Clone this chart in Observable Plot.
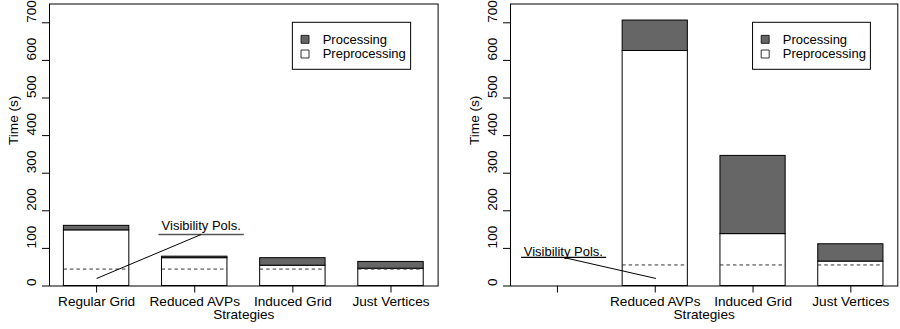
<!DOCTYPE html>
<html><head><meta charset="utf-8">
<script src="https://cdn.jsdelivr.net/npm/d3@7"></script>
<script src="https://cdn.jsdelivr.net/npm/@observablehq/plot@0.6"></script>
<style>
body{margin:0;background:#fff}
#wrap{display:flex;width:900px;height:329px;overflow:hidden}
</style>
</head><body><div id="wrap"></div>
<script>
// ---- data ----
const leftCategories = ["Regular Grid", "Reduced AVPs", "Induced Grid", "Just Vertices"];
const leftPreprocessing = [148, 74, 54, 46];
const leftTotal = [160, 78, 74, 64];
const leftVisibility = [45, 45, 45, 45];

const rightCategories = ["", "Reduced AVPs", "Induced Grid", "Just Vertices"];
const rightPreprocessing = [null, 625, 138, 65];
const rightTotal = [null, 706, 346, 111];
const rightVisibility = [null, 56, 56, 56];

const yTicks = [0, 100, 200, 300, 400, 500, 600, 700];
const legendLabels = ["Processing", "Preprocessing"];
const legendFills = ["#666666", "#ffffff"];
const annotationText = "Visibility Pols.";

// annotation anchors (data coordinates) per panel
const leftAnnotation = {tx: 1.066, ty: 159, ux1: 0.635, ux2: 1.505, uy: 137, px: 0, py: 20, ucolor: "#555"};
const rightAnnotation = {tx: 0.06, ty: 92, ux1: -0.367, ux2: 0.503, uy: 76, px: 1.007, py: 20, ucolor: "#000"};

const FONT = "'Liberation Sans', Arial, Helvetica, sans-serif";
const FS = 13.6;
const HALF = 1 / 3;

function panel(cats, pre, total, vis, ann, marginLeft, marginRight) {
  const rows = cats.map((c, i) => ({i, c, pre: pre[i], total: total[i], vis: vis[i]}))
    .filter(d => d.pre != null);
  const legendRows = legendLabels.map((l, k) => ({l, fill: legendFills[k], y: [656, 617][k]}));
  return Plot.plot({
    width: 450,
    height: 329,
    marginLeft,
    marginRight,
    marginTop: 3.5,
    marginBottom: 43.5,
    x: {type: "linear", domain: [-0.48, 3.48], axis: null},
    y: {domain: [0, 750], axis: null},
    style: {fontFamily: FONT, fontSize: FS + "px", background: "white", color: "black"},
    marks: [
      Plot.rect(rows, {x1: d => d.i - HALF, x2: d => d.i + HALF, y1: 0, y2: "pre", fill: "white", stroke: "black"}),
      Plot.rect(rows, {x1: d => d.i - HALF, x2: d => d.i + HALF, y1: "pre", y2: "total", fill: "#666666", stroke: "black"}),
      Plot.ruleY(rows, {y: "vis", x1: d => d.i - HALF, x2: d => d.i + HALF, stroke: "#333", strokeDasharray: "3.5,3"}),
      Plot.frame({stroke: "black"}),
      Plot.axisY({ticks: yTicks, tickSize: 7, tickFormat: () => "", label: null}),
      Plot.text(yTicks, {frameAnchor: "left", y: d => d, text: d => String(d), rotate: -90, dx: -17.5, fontSize: FS}),
      Plot.axisX({ticks: [0, 1, 2, 3], tickSize: 7, tickPadding: 3.5, tickFormat: i => cats[i], fontSize: FS, label: null}),
      Plot.text(["Strategies"], {frameAnchor: "bottom", dy: 33, fontSize: FS}),
      Plot.text(["Time (s)"], {frameAnchor: "left", dx: -36, rotate: -90, fontSize: FS}),
      // legend
      Plot.rect([0], {x1: 2, x2: 3.205, y1: 575, y2: 700, fill: "white", stroke: "black"}),
      Plot.dot(legendRows, {x: 2.124, y: "y", symbol: "square", r: 4.5, fill: "fill", stroke: "black", strokeWidth: 0.8}),
      Plot.text(legendRows, {x: 2.304, y: "y", text: "l", textAnchor: "start", fontSize: 13}),
      // annotation
      Plot.ruleY([ann], {y: "uy", x1: "ux1", x2: "ux2", stroke: ann.ucolor, strokeWidth: 1.3}),
      Plot.link([ann], {x1: "tx", y1: "uy", x2: "px", y2: "py", stroke: "black"}),
      Plot.text([ann], {x: "tx", y: "ty", text: () => annotationText, fontSize: 13})
    ]
  });
}

const wrap = document.getElementById("wrap");
wrap.append(panel(leftCategories, leftPreprocessing, leftTotal, leftVisibility, leftAnnotation, 49, 12.4));
wrap.append(panel(rightCategories, rightPreprocessing, rightTotal, rightVisibility, rightAnnotation, 60, 2.7));
</script>
</body></html>
